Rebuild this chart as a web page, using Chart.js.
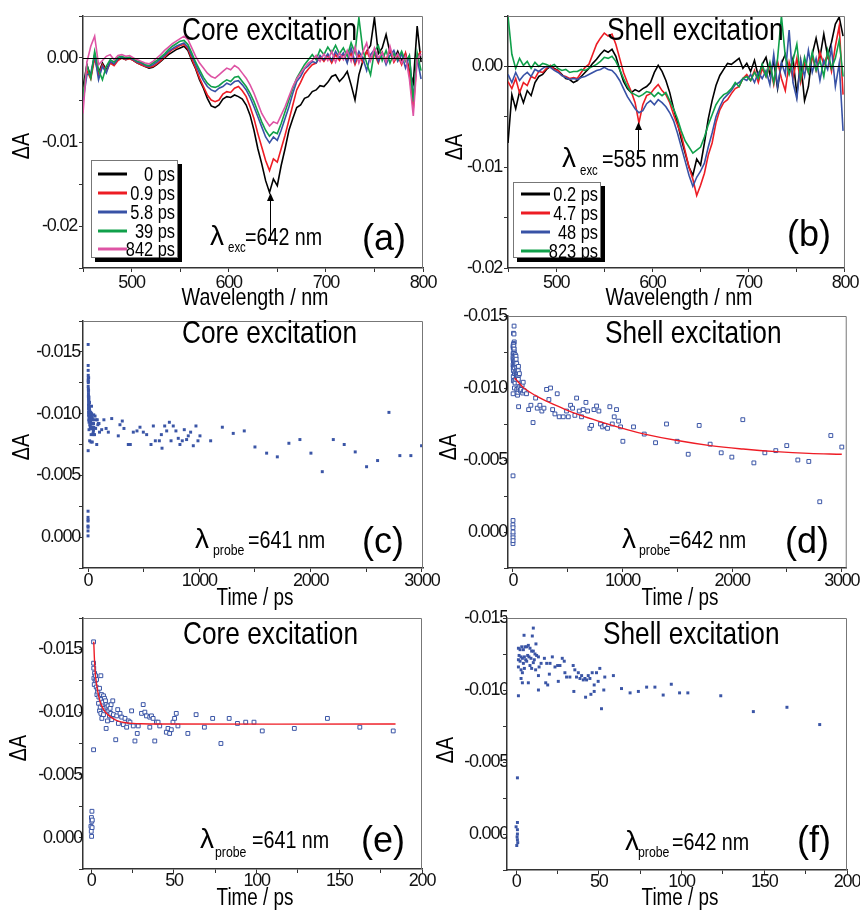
<!DOCTYPE html>
<html><head><meta charset="utf-8">
<script src="https://cdn.jsdelivr.net/npm/chart.js@4.4.0/dist/chart.umd.min.js"></script>
<style>
html,body{margin:0;padding:0;background:#fff;width:860px;height:912px;overflow:hidden;position:relative}
canvas{position:absolute}
</style></head><body>
<script>
// ---------- DATA (ΔA values in units of 10^-3) ----------
const wl = [450,454,458,462,466,470,474,478,482,486,490,
 494,498,502,506,510,514,518,522,526,530,534,
 538,542,546,550,554,558,562,566,570,574,578,
 582,586,590,594,598,602,606,610,614,618,622,
 626,630,634,638,642,646,650,654,658,662,666,
 670,674,678,682,686,690,694,698,702,706,710,
 714,718,722,726,730,734,738,742,746,750,754,
 758,762,766,770,774,778,782,786,790,794,798];

const a_0ps = [-3.5,-0.8,-2.2,0.3,-1.8,-0.6,-1.4,-0.5,-0.8,-0.2,0.0,
 -0.2,0.0,-0.3,-0.6,-0.8,-1.0,-1.2,-1.1,-0.8,-0.4,0.0,
 0.4,0.7,1.0,1.2,1.4,0.9,-0.3,-1.3,-2.6,-3.6,-4.8,
 -5.7,-5.9,-5.6,-4.9,-4.6,-4.7,-4.4,-4.6,-4.9,-5.6,-6.8,
 -8.6,-10.8,-12.6,-14.6,-16.0,-14.4,-15.2,-12.8,-10.8,-8.6,-7.2,
 -5.9,-5.6,-4.8,-4.6,-4.0,-3.8,-3.3,-3.4,-2.9,-2.2,-2.0,
 -2.8,-2.3,-1.6,-3.2,-5.0,-2.0,-0.4,0.8,1.5,4.8,0.5,
 1.2,2.8,0.6,-0.2,0.8,-0.4,0.5,-1.5,-3.0,3.8,-0.5];
const a_09ps = [-4.5,-1.5,-2.5,0.0,-2.0,-0.8,-1.6,-0.6,-0.9,-0.3,0.0,
 -0.2,-0.1,-0.3,-0.6,-0.8,-1.0,-1.1,-1.0,-0.7,-0.3,0.1,
 0.6,1.0,1.2,1.5,1.6,1.1,-0.1,-1.2,-2.4,-3.4,-4.4,
 -5.0,-5.2,-5.0,-4.3,-4.0,-4.1,-3.6,-3.4,-3.9,-4.6,-5.8,
 -7.2,-9.0,-10.6,-12.2,-13.4,-12.0,-12.4,-10.8,-9.2,-7.4,-5.6,
 -3.8,-2.9,-1.9,-1.3,-0.8,-0.6,0.2,-0.4,0.3,-0.6,0.4,
 -0.3,0.5,-0.4,0.6,-0.8,0.4,-0.5,0.8,-0.2,0.5,-0.6,
 0.7,-0.3,1.0,-0.5,0.3,-0.8,0.6,-1.8,-6.0,0.2,0.8];
const a_58ps = [-5.2,-2.0,-1.8,0.4,-2.6,-1.0,-1.8,-0.4,-0.7,-0.1,0.1,
 -0.1,0.0,-0.2,-0.5,-0.6,-0.9,-1.0,-0.8,-0.5,-0.1,0.3,
 0.8,1.1,1.4,1.6,1.8,1.3,0.3,-0.8,-1.8,-2.7,-3.4,
 -3.8,-4.0,-3.6,-3.4,-3.0,-3.2,-2.8,-2.7,-3.2,-3.8,-4.7,
 -5.8,-7.0,-8.2,-9.4,-10.1,-9.4,-9.8,-8.6,-7.2,-5.8,-4.2,
 -2.8,-2.2,-1.3,-0.9,-0.4,-0.6,0.3,-0.2,0.5,-0.3,0.8,
 0.0,0.6,-0.6,1.2,-0.5,0.8,0.0,-1.5,0.4,1.0,-0.4,
 0.6,-0.8,0.3,0.9,-0.4,0.5,-1.2,0.2,-4.8,0.0,-2.5];
const a_39ps = [-4.6,-0.8,-2.4,0.8,-1.4,-2.6,-1.0,-0.2,-0.5,0.1,0.2,
 0.0,0.1,-0.1,-0.4,-0.5,-0.8,-0.9,-0.6,-0.3,0.1,0.5,
 1.0,1.4,1.7,2.0,2.1,1.6,0.6,-0.5,-1.4,-2.3,-3.0,
 -3.4,-3.5,-3.3,-2.9,-2.6,-2.8,-2.3,-2.2,-2.8,-3.4,-4.2,
 -5.2,-6.4,-7.6,-8.6,-9.3,-8.8,-9.0,-7.8,-6.4,-5.0,-3.6,
 -2.4,-1.6,-0.8,-0.2,0.4,-0.2,1.0,0.4,1.3,0.6,1.5,
 0.5,1.2,0.2,1.8,0.6,4.8,1.0,-0.6,-2.0,0.8,1.5,
 -0.3,0.9,-0.6,0.5,-0.2,0.8,-0.4,0.3,-5.2,0.6,-1.5];
const a_842ps = [-6.6,-0.5,1.4,2.6,-0.8,-0.3,0.2,0.4,-0.2,0.3,0.4,
 0.2,0.3,0.0,-0.2,-0.4,-0.6,-0.7,-0.4,0.0,0.4,0.9,
 1.3,1.7,2.0,2.3,2.6,2.2,1.2,0.2,-0.6,-1.2,-1.8,
 -2.2,-2.4,-2.0,-1.6,-1.2,-1.4,-0.9,-1.2,-1.8,-2.4,-3.2,
 -4.2,-5.4,-6.6,-7.4,-8.1,-7.6,-7.8,-6.8,-5.8,-4.6,-3.4,
 -2.5,-1.8,-1.2,-0.6,-0.3,0.3,-0.4,0.5,-0.3,0.8,-0.5,
 0.6,-0.2,0.9,-0.4,1.3,-0.6,0.7,1.8,-0.3,1.2,0.0,
 0.6,-0.5,1.4,-0.3,0.5,-0.6,0.2,-2.5,-6.9,-0.2,0.5];

const b_02ps = [-7.6,-2.8,-4.2,-2.5,-3.6,-2.4,-2.9,-1.6,-1.0,-0.8,-0.3,
 0.0,-0.2,-0.4,-0.8,-1.2,-1.3,-1.6,-1.4,-1.0,-0.6,-0.2,
 0.3,0.7,1.2,1.6,1.4,1.7,1.0,-0.3,-1.5,-2.2,-2.6,
 -2.3,-2.5,-2.2,-2.0,-1.6,-0.6,0.1,-0.5,-1.4,-2.6,-4.2,
 -5.6,-7.2,-8.6,-10.0,-10.8,-9.2,-9.8,-7.6,-5.2,-3.4,-1.9,
 -0.9,-0.3,0.3,0.2,0.5,0.8,-0.2,0.3,-0.5,0.6,-1.0,
 0.2,0.9,-0.8,0.5,-2.2,0.3,1.2,-0.6,0.8,-2.8,0.5,
 -3.4,-2.0,1.2,2.8,0.9,3.2,1.0,2.4,4.2,4.9,3.0];
const b_47ps = [-1.5,-2.2,-1.2,-2.6,-1.6,-1.9,-1.0,-1.2,-0.5,-0.6,-0.2,
 0.1,-0.3,-0.4,-0.9,-1.0,-1.2,-1.1,-1.2,-0.6,-0.1,0.2,
 1.2,2.2,2.8,3.3,3.0,3.2,2.2,0.8,-0.6,-1.6,-2.5,
 -3.6,-5.6,-3.8,-2.9,-2.7,-2.2,-1.8,-2.4,-2.8,-3.6,-4.8,
 -5.8,-6.8,-8.4,-10.0,-11.2,-12.8,-11.8,-10.6,-8.8,-7.6,-5.6,
 -4.3,-3.6,-3.3,-2.7,-2.2,-2.0,-1.2,-0.8,-1.4,-0.4,-1.6,
 -0.2,-1.0,0.2,-1.8,0.5,-1.2,-2.4,0.4,-1.2,0.8,-1.6,
 0.3,-0.6,1.0,-0.4,1.4,0.2,1.2,-0.5,2.0,4.0,-2.8];
const b_48ps = [-0.8,-1.6,-0.6,-1.4,-0.9,-0.6,-1.0,-0.3,-0.5,-0.2,0.0,
 -0.1,-0.4,-0.6,-0.9,-1.1,-1.3,-1.2,-1.3,-1.1,-1.0,-0.8,
 -0.6,-0.4,-0.3,-0.1,-0.3,-0.4,-0.8,-1.4,-2.2,-3.0,-3.6,
 -4.2,-4.6,-4.4,-3.7,-3.4,-3.8,-3.3,-3.6,-4.0,-4.6,-5.4,
 -6.6,-8.0,-9.4,-10.8,-11.9,-11.0,-10.4,-9.6,-8.0,-6.6,-5.0,
 -4.0,-3.2,-2.8,-2.4,-1.8,-1.6,-1.2,-1.4,-0.8,-1.6,-0.6,
 -1.2,-0.4,-1.8,1.2,-2.0,0.4,-0.8,3.6,-1.6,-3.2,0.5,
 -1.0,1.6,-0.6,0.8,-1.4,0.6,-0.3,1.8,-2.0,0.3,-6.4];
const b_823ps = [5.0,1.2,-0.2,0.8,0.1,0.5,-0.2,0.4,0.0,0.3,0.2,
 0.0,0.2,-0.2,-0.4,-0.3,-0.6,-0.5,-0.5,-0.3,-0.4,-0.2,
 0.0,0.2,0.5,0.9,0.8,1.0,0.5,-0.3,-1.2,-2.0,-2.6,
 -2.8,-3.0,-2.8,-2.5,-2.6,-3.0,-2.6,-2.9,-2.6,-3.4,-4.2,
 -5.2,-6.4,-7.4,-8.0,-8.6,-8.3,-8.0,-7.0,-5.8,-4.8,-3.8,
 -3.2,-2.8,-2.6,-2.2,-1.6,-2.0,-1.2,-1.0,-1.4,-0.6,-1.2,
 0.2,-1.0,0.4,-1.6,0.8,5.0,1.0,-0.8,0.6,2.2,-1.2,
 0.9,-0.6,1.4,-0.4,0.6,-1.0,1.6,-0.2,0.8,2.6,-1.0];

const legendA = ['0 ps','0.9 ps','5.8 ps','39 ps','842 ps'];
const legendB = ['0.2 ps','4.7 ps','48 ps','823 ps'];

// kinetics: [time (ps), ΔA (10^-3)]
const coreData = [[-0.2,-0.9],[0,-0.5],[0.1,-1.6],[0.2,-0.1],[0.3,-1.3],[0.4,-2.1],[0.5,-0.8],[0.6,-1.4],
 [1.4,-7.0],[1.4,-15.6],[1.4,-13.9],[1.5,-13.5],[1.6,-12.7],[1.8,-12.2],[2.0,-13.1],[2.4,-12.5],[2.6,-12.9],[3.0,-12.0],
 [3.2,-12.6],[3.4,-11.4],[3.8,-11.8],[4.0,-11.6],[4.4,-10.7],[4.6,-11.2],[5.0,-11.9],[5.0,-10.1],[5.4,-10.4],[5.8,-12.9],
 [5.8,-9.9],[6.0,-11.0],[6.2,-11.4],[6.4,-9.5],[6.6,-10.6],[7.0,-10.8],[7.4,-11.3],[7.4,-9.8],[7.8,-10.3],[8.0,-11.1],
 [8.6,-10.9],[9.0,-8.7],[9.0,-10.6],[9.4,-10.4],[9.8,-9.3],[10.2,-10.5],[10.6,-10.1],[11.0,-9.7],[11.4,-10.3],[11.8,-9.9],
 [12.0,-10.6],[12.4,-9.4],[13.0,-10.9],[13.4,-9.8],[14.8,-7.8],[15.4,-9.7],[16.0,-10.2],[16.4,-9.1],[17.4,-9.9],[18.4,-9.6],
 [19.4,-9.0],[20.4,-9.5],[21.4,-8.8],[22.4,-9.3],[23.4,-9.2],[24.4,-10.1],[25.4,-8.9],[26.4,-7.7],[27.8,-8.3],[28.4,-8.9],
 [30.4,-9.9],[31.4,-10.6],[32.4,-10.0],[33.4,-9.7],[35.4,-9.6],[35.4,-8.8],[36.4,-9.7],[37.4,-9.5],[38.4,-7.7],[39.4,-9.2],
 [40.4,-9.2],[41.4,-8.9],[45.4,-8.4],[46.4,-8.7],[47.4,-8.3],[48.4,-8.6],[49.4,-9.2],[50.4,-9.5],[51.4,-9.9],[52.4,-8.9],
 [58.4,-8.3],[63.4,-9.8],[68.4,-8.8],[73.4,-9.5],[78.4,-7.5],[83.4,-9.5],[88.4,-9.1],[93.4,-9.2],[98.4,-9.2],[103.4,-8.5],
 [122.8,-8.7],[142.8,-9.5],[162.4,-8.8],[182.6,-8.5],
 [213,-9.6],[272,-8.2],[287,-9.1],[308,-9.4],[323,-8.8],[362,-7.5],[380,-7.5],[407,-8.5],[440,-8.6],[467,-8.9],[497,-8.5],
 [527,-8.3],[566,-7.5],[587,-9.0],[605,-7.8],[641,-7.8],[659,-8.3],[665,-7.2],[689,-9.0],[707,-8.6],[731,-9.3],[746,-7.8],
 [766,-9.0],[790,-8.6],[811,-8.0],[826,-7.5],[847,-7.8],[865,-8.7],[886,-7.9],[901,-8.2],[922,-8.5],[946,-7.4],[970,-9.0],
 [988,-7.8],[1006,-8.2],[1102,-7.8],[1207,-8.9],[1305,-8.4],[1404,-8.6],[1500,-7.3],[1605,-6.8],[1701,-6.5],[1805,-7.6],
 [1904,-7.9],[2003,-6.8],[2105,-5.3],[2204,-7.9],[2302,-7.5],[2401,-6.9],[2503,-5.7],[2602,-6.2],[2704,-10.1],[2802,-6.6],
 [2901,-6.6],[2997,-7.4]];
const coreFit = [[1.5,-15.6],[2,-14.0],[2.5,-13.0],[3,-12.4],[4,-11.6],[5,-11.0],[6,-10.6],[8,-10.1],[10,-9.8],[13,-9.5],
 [16,-9.3],[20,-9.17],[25,-9.1],[30,-9.07],[40,-9.05],[184,-9.05]];

const shellData = [[0.0,-0.5],[0.4,0.8],[0.6,0.2],[0.8,-0.8],[0.8,-0.3],[0.8,0.0],[0.8,0.4],[1.0,0.6],[0.8,-3.9],
 [1.4,-9.6],[10.4,-14.3],[4.8,-13.8],[9.8,-13.75],[12.0,-13.2],[7.4,-13.1],[1.4,-12.9],[2.4,-12.8],[3.4,-13.0],[4.4,-12.8],
 [5.4,-13.0],[6.4,-13.0],[8.4,-12.9],[9.4,-12.7],[10.4,-12.7],[11.4,-12.5],[12.4,-12.4],[13.5,-12.3],[1.8,-12.4],[3.0,-12.3],
 [3.8,-12.2],[5.0,-12.3],[5.8,-12.1],[7.0,-12.4],[7.8,-12.3],[9.0,-12.2],[11.0,-12.1],[1.4,-12.1],[2.4,-12.0],[4.4,-11.85],
 [6.4,-12.0],[8.4,-11.7],[10.4,-11.9],[1.4,-11.6],[3.0,-11.4],[3.8,-11.2],[5.0,-11.5],[3.0,-10.8],[3.8,-10.5],[7.4,-10.5],
 [9.4,-11.5],[11.8,-11.4],[13.9,-11.6],[13.5,-11.0],[15.1,-11.85],[17.1,-12.2],[18.5,-11.85],[20.5,-11.85],[21.9,-12.3],
 [23.5,-11.6],[25.1,-11.7],[26.5,-11.7],[27.9,-12.2],[29.1,-12.0],[13.5,-10.0],[17.9,-10.5],[19.1,-10.35],[20.1,-11.1],
 [25.5,-10.6],[29.5,-11.2],[30.5,-10.9],[32.5,-10.9],[34.5,-11.7],[35.5,-11.4],[36.5,-10.9],[37.6,-11.2],[38.6,-10.8],
 [39.6,-11.0],[40.6,-10.7],[41.6,-10.8],[34.9,-9.9],[42.6,-10.7],[43.6,-11.0],[44.6,-10.8],[46.0,-11.2],[47.2,-10.35],
 [48.6,-11.2],[49.6,-10.6],[50.6,-11.5],[53.6,-10.9],[42.0,-9.5],[45.2,-9.7],[47.2,-9.9],[51.6,-8.7],[53.0,-10.0],[58.8,-11.0],
 [63.7,-10.1],[68.9,-9.8],[73.9,-9.9],[78.9,-10.2],[83.9,-10.2],[88.9,-9.65],[93.8,-10.4],[98.8,-9.8],[103.8,-9.8],
 [123.7,-9.6],[143.4,-8.5],[163.7,-8.8],[183.5,-7.6],
 [207,-9.3],[222,-8.6],[246,-8.8],[264,-8.4],[283,-8.6],[307,-9.9],[328,-9.2],[343,-10.0],[362,-8.5],[383,-8.2],[404,-9.6],
 [422,-8.0],[459,-8.0],[489,-8.4],[505,-8.0],[526,-8.8],[544,-8.6],[565,-8.1],[581,-9.3],[605,-8.4],[626,-8.0],[641,-8.5],
 [666,-9.0],[681,-8.4],[702,-7.2],[717,-7.4],[739,-8.5],[763,-8.75],[784,-8.4],[799,-7.5],[818,-7.3],[839,-7.4],[863,-7.2],
 [884,-8.7],[906,-7.5],[924,-8.0],[945,-8.5],[964,-7.7],[982,-7.3],[1003,-6.3],[1100,-7.3],[1198,-6.8],[1301,-6.2],
 [1401,-7.5],[1498,-6.3],[1599,-5.4],[1699,-7.4],[1799,-6.1],[1900,-5.5],[1997,-5.2],[2097,-7.8],[2198,-4.8],[2298,-5.5],
 [2398,-5.65],[2498,-6.0],[2599,-5.0],[2699,-4.9],[2799,-2.1],[2900,-6.7],[3000,-5.9]];
const shellFit = [[15,-10.7],[50,-10.4],[100,-10.0],[200,-9.5],[300,-9.1],[450,-8.6],[600,-8.15],[800,-7.65],[1000,-7.2],
 [1200,-6.8],[1500,-6.35],[1800,-6.0],[2100,-5.76],[2400,-5.58],[2700,-5.46],[3000,-5.4]];

// ticks
const xTicksWl = [450,500,550,600,650,700,750,800];
const xLabWl   = ['','500','','600','','700','','800'];
const yTicksA  = [-25,-20,-15,-10,-5,0,5];
const yLabA    = ['','-0.02','','-0.01','','0.00',''];
const yTicksB  = [-20,-15,-10,-5,0,5];
const yLabB    = ['-0.02','','-0.01','','0.00',''];
const yTicksCE = [-17.5,-15,-12.5,-10,-7.5,-5,-2.5,0,2.5];
const yLabCE   = ['','-0.015','','-0.010','','-0.005','','0.000',''];
const yTicksDF = [-15,-12.5,-10,-7.5,-5,-2.5,0,2.5];
const yLabDF   = ['-0.015','','-0.010','','-0.005','','0.000',''];
const xTicksLong = [0,500,1000,1500,2000,2500,3000];
const xLabLong   = ['0','','1000','','2000','','3000'];
const xTicksShort = [0,25,50,75,100,125,150,175,200];
const xLabShort   = ['0','','50','','100','','150','','200'];

// ---------- STYLE ----------
const FONT = "'Liberation Sans',Arial,Helvetica,sans-serif";
const C = {k:'#000000', r:'#ed1c24', b:'#3852a6', g:'#10a04a', p:'#de54a4', dot:'#3a55a6', fit:'#ee1c25'};

function drawText(ctx, t, ox, oy){
  ctx.save();
  ctx.font = t.size + 'px ' + FONT;
  ctx.fillStyle = '#000';
  ctx.textAlign = t.align || 'left';
  ctx.textBaseline = 'alphabetic';
  if ('letterSpacing' in ctx) ctx.letterSpacing = '0px';
  const sx = t.reg ? 1 : 0.82;
  ctx.translate(t.x - ox, t.y - oy);
  if (t.rot) ctx.rotate(-Math.PI/2);
  ctx.scale(sx, 1);
  ctx.fillText(t.s, 0, 0);
  ctx.restore();
}

const deco = {
  id:'deco',
  beforeDraw(chart){ if ('letterSpacing' in chart.ctx) chart.ctx.letterSpacing = '-1.2px'; },
  afterDatasetsDraw(chart, args, o){
    const ctx = chart.ctx, a = chart.chartArea, ox = o.off[0], oy = o.off[1];
    ctx.save();
    if (o.zero){
      const y = Math.round(chart.scales.y.getPixelForValue(0)) + 0.5;
      ctx.strokeStyle='#000'; ctx.lineWidth=1;
      ctx.beginPath(); ctx.moveTo(a.left,y); ctx.lineTo(a.right,y); ctx.stroke();
    }
    ctx.strokeStyle='#777'; ctx.lineWidth=1;
    ctx.beginPath(); ctx.moveTo(a.left, a.top+0.5); ctx.lineTo(a.right-0.5, a.top+0.5); ctx.lineTo(a.right-0.5, a.bottom); ctx.stroke();
    if (o.arrow){
      const x = Math.round(chart.scales.x.getPixelForValue(o.arrow.wl)) + 0.5;
      const y1 = o.arrow.y1 - oy, y2 = o.arrow.y2 - oy;
      ctx.strokeStyle='#000'; ctx.lineWidth=1;
      ctx.beginPath(); ctx.moveTo(x,y1); ctx.lineTo(x,y2+6); ctx.stroke();
      ctx.fillStyle='#000'; ctx.beginPath(); ctx.moveTo(x,y2); ctx.lineTo(x-3.5,y2+8); ctx.lineTo(x+3.5,y2+8); ctx.closePath(); ctx.fill();
    }
    if (o.legend){
      const g = o.legend;
      const x1=g.box[0]-ox, y1=g.box[1]-oy, w=g.box[2]-g.box[0], h=g.box[3]-g.box[1];
      ctx.fillStyle='#000'; ctx.fillRect(x1+4,y1+4,w,h);
      ctx.fillStyle='#fff'; ctx.fillRect(x1,y1,w,h);
      ctx.strokeStyle='#777'; ctx.lineWidth=1; ctx.strokeRect(x1+0.5,y1+0.5,w-1,h-1);
      g.names.forEach((n,i)=>{
        const y = g.rows[i]-oy;
        ctx.strokeStyle=g.colors[i]; ctx.lineWidth=3;
        ctx.beginPath(); ctx.moveTo(g.lx[0]-ox,y); ctx.lineTo(g.lx[1]-ox,y); ctx.stroke();
        drawText(ctx,{s:n,x:g.tx,y:g.rows[i]+7,size:20,align:'right'},ox,oy);
      });
    }
    (o.texts||[]).forEach(t=>drawText(ctx,t,ox,oy));
    ctx.restore();
  }
};

function scaleOpt(ax, isX, size){
  return {
    type:'linear', min:ax.min, max:ax.max, reverse:!!ax.reverse,
    afterFit(s){ if(isX) s.height=size; else s.width=size; },
    afterBuildTicks(s){ s.ticks = ax.ticks.map(v=>({value:v})); },
    ticks:{autoSkip:false, maxRotation:0, minRotation:0, padding:ax.pad, color:'#111',
      font:{family:FONT, size:18}, callback:(v,i)=>ax.labels[i]},
    grid:{display:true, drawOnChartArea:false, drawTicks:true, tickLength:4, color:'#333', lineWidth:1},
    border:{display:true, color:'#333', width:1.5}
  };
}

function mk(left, top, w, h, plot, xa, ya, datasets, decoOpts){
  const cv = document.createElement('canvas');
  cv.width=w; cv.height=h; cv.style.left=left+'px'; cv.style.top=top+'px';
  document.body.appendChild(cv);
  const [L,T,R,B] = plot;
  decoOpts.off = [left, top];
  return new Chart(cv, {
    type:'scatter', data:{datasets},
    options:{
      responsive:false, animation:false, events:[],
      layout:{autoPadding:false, padding:{left:0, top:T-top, right:left+w-R, bottom:0}},
      plugins:{legend:{display:false}, tooltip:{enabled:false}, deco:decoOpts},
      scales:{x:scaleOpt(xa,true,top+h-B), y:scaleOpt(ya,false,L-left)}
    },
    plugins:[deco]
  });
}

const spec = (arr, color, order) => ({data: wl.map((x,i)=>({x, y:arr[i]})), showLine:true, borderColor:color,
  borderWidth:1.6, pointRadius:0, tension:0, order});
const pts = (arr, filled) => ({data: arr.map(p=>({x:p[0], y:p[1]})), showLine:false, pointStyle:'rect',
  pointRadius: filled ? 2.1 : 2.7, pointBackgroundColor: filled ? C.dot : '#fff',
  pointBorderColor: C.dot, pointBorderWidth: filled ? 0 : 1, order:2});
const fit = arr => ({data: arr.map(p=>({x:p[0], y:p[1]})), showLine:true, borderColor:C.fit, borderWidth:1.4, pointRadius:0, tension:0.4, order:1});

// (a)
mk(0,0,445,312,[83,16,423,268],
  {min:450,max:800,ticks:xTicksWl,labels:xLabWl,pad:0},
  {min:-25,max:5,ticks:yTicksA,labels:yLabA,pad:2},
  [spec(a_0ps,C.k,5),spec(a_09ps,C.r,4),spec(a_58ps,C.b,3),spec(a_39ps,C.g,2),spec(a_842ps,C.p,1)],
  {zero:true, arrow:{wl:642,y1:240,y2:193},
   legend:{box:[91,160,178,258], rows:[174,193,212,231,249], lx:[98,127], tx:175, names:legendA, colors:[C.k,C.r,C.b,C.g,C.p]},
   texts:[{s:'Core excitation',x:182,y:40,size:32},
     {s:'λ',x:210,y:245,size:28,reg:true},{s:'exc',x:228,y:252,size:14},{s:'=642 nm',x:245,y:245,size:24},
     {s:'(a)',x:362,y:250,size:36,reg:true},
     {s:'ΔA',x:29,y:146,size:24,rot:true,align:'center'},
     {s:'Wavelength / nm',x:255,y:305,size:24,align:'center'}]});

// (b)
mk(430,0,430,312,[508,16,847,268],
  {min:450,max:800,ticks:xTicksWl,labels:xLabWl,pad:0},
  {min:-20,max:5,ticks:yTicksB,labels:yLabB,pad:2},
  [spec(b_02ps,C.k,4),spec(b_47ps,C.r,3),spec(b_48ps,C.b,2),spec(b_823ps,C.g,1)],
  {zero:true, arrow:{wl:585,y1:158,y2:122},
   legend:{box:[513,182,601,258], rows:[194,213,232,251], lx:[521,550], tx:598, names:legendB, colors:[C.k,C.r,C.b,C.g]},
   texts:[{s:'Shell excitation',x:607,y:40,size:32},
     {s:'λ',x:562,y:167,size:28,reg:true},{s:'exc',x:580,y:175,size:14},{s:'=585 nm',x:602,y:167,size:24},
     {s:'(b)',x:787,y:246,size:36,reg:true},
     {s:'ΔA',x:462,y:147,size:24,rot:true,align:'center'},
     {s:'Wavelength / nm',x:679,y:305,size:24,align:'center'}]});

// (c)
mk(0,300,445,312,[83,321,423,568],
  {min:-45,max:3010,ticks:xTicksLong,labels:xLabLong,pad:-2},
  {min:-17.5,max:2.5,reverse:true,ticks:yTicksCE,labels:yLabCE,pad:-1},
  [pts(coreData,true)],
  {texts:[{s:'Core excitation',x:182,y:343,size:32},
     {s:'λ',x:195,y:548,size:28,reg:true},{s:'probe',x:213,y:555,size:15},{s:'=641 nm',x:248,y:548,size:24},
     {s:'(c)',x:362,y:553,size:36,reg:true},
     {s:'ΔA',x:29,y:447,size:24,rot:true,align:'center'},
     {s:'Time / ps',x:255,y:605,size:23,align:'center'}]});

// (d)
mk(430,300,430,312,[508,316,847,568],
  {min:-45,max:3045,ticks:xTicksLong,labels:xLabLong,pad:-2},
  {min:-15,max:2.5,reverse:true,ticks:yTicksDF,labels:yLabDF,pad:-3},
  [fit(shellFit),pts(shellData,false)],
  {texts:[{s:'Shell excitation',x:605,y:343,size:32},
     {s:'λ',x:622,y:548,size:28,reg:true},{s:'probe',x:639,y:555,size:15},{s:'=642 nm',x:669,y:548,size:24},
     {s:'(d)',x:785,y:553,size:36,reg:true},
     {s:'ΔA',x:456,y:447,size:24,rot:true,align:'center'},
     {s:'Time / ps',x:680,y:605,size:23,align:'center'}]});

// (e)
mk(0,600,445,312,[83,618,422,869],
  {min:-5,max:200,ticks:xTicksShort,labels:xLabShort,pad:-3},
  {min:-17.5,max:2.5,reverse:true,ticks:yTicksCE,labels:yLabCE,pad:-3},
  [fit(coreFit),pts(coreData,false)],
  {texts:[{s:'Core excitation',x:183,y:644,size:32},
     {s:'λ',x:200,y:848,size:28,reg:true},{s:'probe',x:215,y:857,size:15},{s:'=641 nm',x:252,y:848,size:24},
     {s:'(e)',x:361,y:852,size:36,reg:true},
     {s:'ΔA',x:26,y:748,size:24,rot:true,align:'center'},
     {s:'Time / ps',x:255,y:905,size:23,align:'center'}]});

// (f)
mk(430,600,430,312,[507,618,847,870],
  {min:-5.5,max:200,ticks:xTicksShort,labels:xLabShort,pad:-3},
  {min:-15,max:2.5,reverse:true,ticks:yTicksDF,labels:yLabDF,pad:-5},
  [pts(shellData,true)],
  {texts:[{s:'Shell excitation',x:603,y:644,size:32},
     {s:'λ',x:625,y:850,size:28,reg:true},{s:'probe',x:638,y:857,size:15},{s:'=642 nm',x:672,y:850,size:24},
     {s:'(f)',x:797,y:852,size:36,reg:true},
     {s:'ΔA',x:453,y:750,size:24,rot:true,align:'center'},
     {s:'Time / ps',x:680,y:905,size:23,align:'center'}]});
</script>
</body></html>
